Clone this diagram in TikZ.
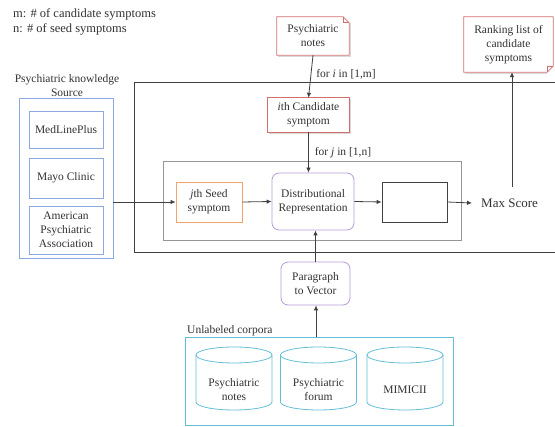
\documentclass[tikz,border=0pt]{standalone}
\usepackage{fontspec}
\setmainfont{Liberation Serif}
\usetikzlibrary{arrows.meta}
\definecolor{redc}{RGB}{210,110,110}
\definecolor{bluec}{RGB}{140,170,225}
\definecolor{orangec}{RGB}{240,165,110}
\definecolor{purplec}{RGB}{180,155,215}
\definecolor{tealc}{RGB}{100,190,215}
\definecolor{grayc}{RGB}{150,150,150}
\definecolor{txt}{RGB}{50,50,50}
\tikzset{
  base/.style={font=\fontsize{11.5}{14}\selectfont, text=txt, align=center, inner sep=0pt},
  bluebox/.style={base, draw=bluec, line width=0.8pt},
  orangebox/.style={base, draw=orangec, line width=0.8pt},
  purplebox/.style={base, draw=purplec, line width=0.8pt, rounded corners=7pt},
  plainbox/.style={base, draw=black!75, line width=0.8pt},
  conn/.style={draw=black!75, line width=0.8pt, -{Latex[length=5pt,width=4.5pt]}},
  lbl/.style={base, anchor=west},
  shadowline/.style={draw=black!15, line width=1.2pt},
}
\begin{document}
\begin{tikzpicture}[x=1pt,y=-1pt]
\useasboundingbox (0,0) rectangle (555,427);
% top-left legend
\node[base, anchor=west, font=\fontsize{12.5}{14}\selectfont] (legm) at (13,14) {m: \# of candidate symptoms};
\node[base, anchor=west, font=\fontsize{12.5}{14}\selectfont] (legn) at (13,29) {n: \# of seed symptoms};

% big black box (open to the right)
\draw[black!75, line width=1pt] (555,83) -- (134,83) -- (134,253) -- (555,253);
% gray inner box
\draw[grayc, line width=0.8pt] (163,161) rectangle (461,240);

% knowledge source
\node[base] (kslabel) at (67,86) {Psychiatric knowledge\\Source};
\node[bluebox, minimum width=94pt, minimum height=160pt] (ks) at (66,178) {};
\node[bluebox, minimum width=74pt, minimum height=37pt] (mlp) at (66,129.5) {MedLinePlus};
\node[bluebox, minimum width=74pt, minimum height=40pt] (mayo) at (66,178) {Mayo Clinic};
\node[bluebox, minimum width=74pt, minimum height=48pt] (apa) at (66,230) {American\\Psychiatric\\Association};

% psychiatric notes (folded top-right corner)
\node[base, minimum width=72pt, minimum height=38pt] (notes) at (313,36) {Psychiatric\\notes};
\draw[shadowline] ([xshift=1.5pt,yshift=-1pt]notes.south west) -- ([xshift=1pt,yshift=-1pt]notes.south east) -- ([xshift=1pt,yshift=-6pt]notes.north east);
\draw[redc, line width=0.8pt] (notes.north west) -- ([xshift=-6pt]notes.north east) -- ([yshift=-6pt]notes.north east) -- (notes.south east) -- (notes.south west) -- cycle;
\draw[redc, line width=0.6pt] ([xshift=-6pt]notes.north east) -- ([xshift=-6pt,yshift=-6pt]notes.north east) -- ([yshift=-6pt]notes.north east);

% ranking list (folded bottom-right corner)
\node[base, minimum width=89pt, minimum height=55pt] (rank) at (508.5,44.5) {Ranking list of\\candidate\\symptoms};
\draw[shadowline] ([xshift=1.5pt,yshift=-1pt]rank.south west) -- ([xshift=-6pt,yshift=-1pt]rank.south east);
\draw[redc, line width=0.8pt] (rank.north west) -- (rank.north east) -- ([yshift=6pt]rank.south east) -- ([xshift=-6pt]rank.south east) -- (rank.south west) -- cycle;
\draw[redc, line width=0.6pt] ([yshift=6pt]rank.south east) -- ([xshift=-6pt,yshift=6pt]rank.south east) -- ([xshift=-6pt]rank.south east);

% candidate
\node[base, minimum width=81pt, minimum height=34pt] (cand) at (308.5,115) {\textit{i}th Candidate\\symptom};
\draw[shadowline] ([xshift=1.5pt,yshift=-1pt]cand.south west) -- ([xshift=1pt,yshift=-1pt]cand.south east) -- ([xshift=1pt,yshift=-1.5pt]cand.north east);
\draw[redc, line width=0.8pt] (cand.south west) rectangle (cand.north east);

% inner row
\node[orangebox, minimum width=66pt, minimum height=40pt] (seed) at (209,202) {\textit{j}th Seed\\symptom};
\node[purplebox, minimum width=82pt, minimum height=57pt] (dist) at (313,201.5) {Distributional\\Representation};
\node[plainbox, minimum width=65pt, minimum height=40pt] (empty) at (414.5,202) {};
\node[base, font=\fontsize{13}{15}\selectfont, anchor=west, inner xsep=9pt] (max) at (472,203) {Max Score};
\coordinate (maxtop) at (512,187);

% paragraph to vector
\node[purplebox, minimum width=69pt, minimum height=43pt] (p2v) at (315.5,283.5) {Paragraph\\to Vector};

% corpora
\node[base, anchor=west] (uclabel) at (187,331) {Unlabeled corpora};
\node[draw=tealc, line width=0.9pt, minimum width=268pt, minimum height=88pt, inner sep=0pt] (corp) at (319,381) {};
\foreach \cx/\nm/\tx in {234/c1/{Psychiatric\\notes}, 318.5/c2/{Psychiatric\\forum}, 405/c3/{MIMICII}} {
  \draw[tealc, line width=0.8pt] (\cx,355) ellipse [x radius=38pt, y radius=8pt];
  \draw[tealc, line width=0.8pt] (\cx-38,355) -- (\cx-38,402) arc[start angle=180, end angle=360, x radius=38pt, y radius=8pt] -- (\cx+38,355);
  \node[base] (\nm) at (\cx,389.5) {\tx};
}

% connectors
\draw[conn] (notes.south) -- (cand.north) node[lbl, pos=0.45, xshift=5pt] (lbli) {for \textit{i} in [1,m]};
\draw[conn] (cand.south) -- (cand.south |- dist.north) node[lbl, pos=0.5, xshift=6pt] (lblj) {for \textit{j} in [1,n]};
\draw[conn] (ks.east |- seed.west) -- (seed.west);
\draw[conn] (seed.east) -- (dist.west);
\draw[conn] (dist.east) -- (empty.west);
\draw[conn] (empty.east) -- (max.west);
\draw[conn] (maxtop) -- (rank.south -| maxtop);
\draw[conn] (p2v.north) -- (p2v.north |- dist.south);
\draw[conn] ([xshift=-3pt]corp.north) -- ([xshift=-3pt]corp.north |- p2v.south);
\end{tikzpicture}
\end{document}
